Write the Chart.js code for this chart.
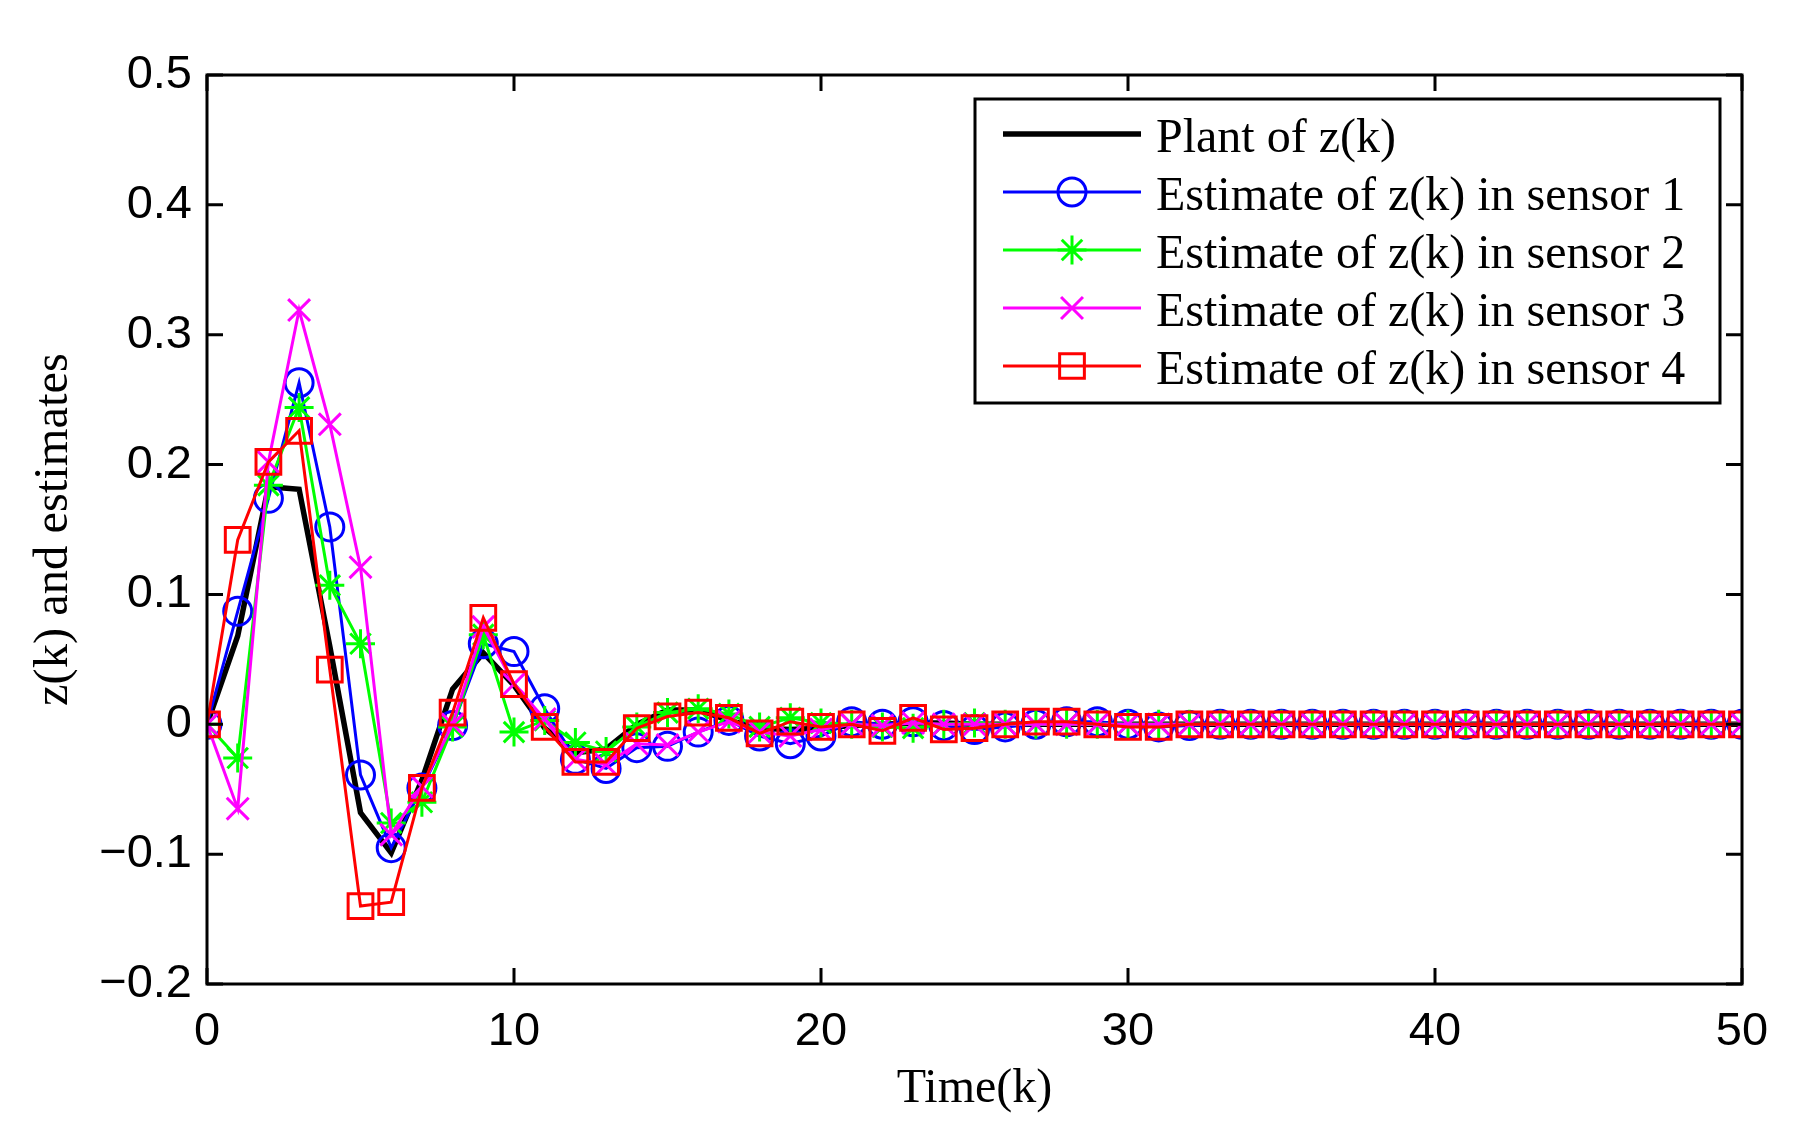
<!DOCTYPE html>
<html>
<head>
<meta charset="utf-8">
<script src="https://cdn.jsdelivr.net/npm/chart.js@4/dist/chart.umd.min.js"></script>
<style>
  html, body { margin: 0; padding: 0; background: #fff; }
  #wrap { width: 1804px; height: 1131px; }
</style>
</head>
<body>
<div id="wrap"><canvas id="zChart" width="1804" height="1131"></canvas></div>
<script>
// time steps k
const timeK = [0, 1, 2, 3, 4, 5, 6, 7, 8, 9, 10, 11, 12, 13, 14, 15, 16, 17, 18, 19, 20,
  21, 22, 23, 24, 25, 26, 27, 28, 29, 30, 31, 32, 33, 34, 35, 36, 37, 38, 39, 40,
  41, 42, 43, 44, 45, 46, 47, 48, 49, 50];

// plant of z(k)
const plantZ = [0, 0.068, 0.183, 0.181, 0.060, -0.068, -0.099, -0.043, 0.027, 0.055, 0.030,
  -0.003, -0.022, -0.019, 0.000, 0.011, 0.011, 0.003, -0.003, -0.004, -0.003,
  -0.001, 0.000, 0.001, 0.001, 0.000, 0.000, 0.000, 0.000, 0.000, 0.000,
  0.000, 0.000, 0.000, 0.000, 0.000, 0.000, 0.000, 0.000, 0.000, 0.000,
  0.000, 0.000, 0.000, 0.000, 0.000, 0.000, 0.000, 0.000, 0.000, 0.000];

// estimates in the four sensors
const sensor1 = [0, 0.087, 0.174, 0.263, 0.152, -0.039, -0.095, -0.049, -0.001, 0.062, 0.056,
  0.012, -0.027, -0.034, -0.018, -0.017, -0.006, 0.003, -0.009, -0.015, -0.009,
  0.002, 0.000, 0.002, -0.001, -0.004, -0.002, 0.000, 0.002, 0.002, 0.000,
  -0.002, -0.001, 0.000, 0.000, 0.000, 0.000, 0.000, 0.000, 0.000, 0.000,
  0.000, 0.000, 0.000, 0.000, 0.000, 0.000, 0.000, 0.000, 0.000, 0.000];

const sensor2 = [0, -0.026, 0.184, 0.244, 0.107, 0.062, -0.076, -0.060, -0.002, 0.069, -0.006,
  0.003, -0.014, -0.021, -0.002, 0.009, 0.012, 0.008, -0.002, 0.005, 0.001,
  0.000, -0.002, -0.003, 0.000, 0.001, 0.000, 0.000, 0.000, 0.000, 0.000,
  0.000, 0.000, 0.000, 0.000, 0.000, 0.000, 0.000, 0.000, 0.000, 0.000,
  0.000, 0.000, 0.000, 0.000, 0.000, 0.000, 0.000, 0.000, 0.000, 0.000];

const sensor3 = [0, -0.065, 0.202, 0.319, 0.231, 0.121, -0.085, -0.048, 0.000, 0.075, 0.031,
  0.004, -0.027, -0.031, -0.015, -0.016, -0.006, 0.002, -0.006, -0.009, -0.004,
  0.000, -0.001, 0.001, 0.000, 0.000, 0.000, 0.000, 0.000, 0.000, 0.000,
  0.000, 0.000, 0.000, 0.000, 0.000, 0.000, 0.000, 0.000, 0.000, 0.000,
  0.000, 0.000, 0.000, 0.000, 0.000, 0.000, 0.000, 0.000, 0.000, 0.000];

const sensor4 = [0, 0.142, 0.202, 0.226, 0.042, -0.140, -0.137, -0.049, 0.009, 0.082, 0.031,
  -0.002, -0.029, -0.029, -0.003, 0.006, 0.009, 0.005, -0.007, 0.002, -0.002,
  0.000, -0.005, 0.005, -0.004, -0.003, 0.000, 0.002, 0.002, 0.000, -0.002,
  -0.002, 0.000, 0.000, 0.000, 0.000, 0.000, 0.000, 0.000, 0.000, 0.000,
  0.000, 0.000, 0.000, 0.000, 0.000, 0.000, 0.000, 0.000, 0.000, 0.000];

const seriesLabels = [
  'Plant of z(k)',
  'Estimate of z(k) in sensor 1',
  'Estimate of z(k) in sensor 2',
  'Estimate of z(k) in sensor 3',
  'Estimate of z(k) in sensor 4'
];

const xTickLabels = { 0: '0', 10: '10', 20: '20', 30: '30', 40: '40', 50: '50' };
const yTickLabels = { '0.5': '0.5', '0.4': '0.4', '0.3': '0.3', '0.2': '0.2', '0.1': '0.1',
  '0': '0', '-0.1': '\u22120.1', '-0.2': '\u22120.2' };

const SANS = '"Liberation Sans", Arial, sans-serif';
const SERIF = '"Liberation Serif", "Times New Roman", serif';

const toPoints = (vals) => vals.map((v, i) => ({ x: timeK[i], y: v }));

function makeSet(label, vals, color, style, radius, width, order) {
  return {
    label: label,
    data: toPoints(vals),
    borderColor: color,
    borderWidth: width,
    pointStyle: style,
    pointRadius: radius,
    pointHoverRadius: radius,
    pointBorderColor: color,
    pointBackgroundColor: 'rgba(0,0,0,0)',
    pointBorderWidth: 3,
    tension: 0,
    fill: false,
    order: order
  };
}

// inward ticks on all four sides plus the axes box
const framePlugin = {
  id: 'frame',
  afterDatasetsDraw(chart) {
    const { ctx, chartArea: a, scales: { x, y } } = chart;
    const len = 16;
    ctx.save();
    ctx.strokeStyle = '#000';
    ctx.lineWidth = 3;
    ctx.beginPath();
    x.ticks.forEach(t => {
      const px = x.getPixelForValue(t.value);
      ctx.moveTo(px, a.bottom); ctx.lineTo(px, a.bottom - len);
      ctx.moveTo(px, a.top); ctx.lineTo(px, a.top + len);
    });
    y.ticks.forEach(t => {
      const py = y.getPixelForValue(t.value);
      ctx.moveTo(a.left, py); ctx.lineTo(a.left + len, py);
      ctx.moveTo(a.right, py); ctx.lineTo(a.right - len, py);
    });
    ctx.stroke();
    ctx.strokeRect(a.left, a.top, a.right - a.left, a.bottom - a.top);
    ctx.restore();
  }
};

// MATLAB style boxed legend in the upper right corner
const legendPlugin = {
  id: 'boxLegend',
  afterDraw(chart) {
    const { ctx, chartArea: a } = chart;
    const boxW = 745, boxH = 304;
    const left = a.right - 22 - boxW, top = a.top + 24;
    ctx.save();
    ctx.fillStyle = '#fff';
    ctx.fillRect(left, top, boxW, boxH);
    ctx.strokeStyle = '#000';
    ctx.lineWidth = 3;
    ctx.strokeRect(left, top, boxW, boxH);
    chart.data.datasets.forEach((ds, i) => {
      const cy = top + 35 + i * 58;
      ctx.strokeStyle = ds.borderColor;
      ctx.lineWidth = ds.borderWidth;
      ctx.beginPath();
      ctx.moveTo(left + 28, cy);
      ctx.lineTo(left + 166, cy);
      ctx.stroke();
      if (ds.pointRadius > 0 && Chart.helpers && Chart.helpers.drawPoint) {
        ctx.lineWidth = ds.pointBorderWidth;
        ctx.fillStyle = 'rgba(0,0,0,0)';
        Chart.helpers.drawPoint(ctx, {
          pointStyle: ds.pointStyle, radius: ds.pointRadius, rotation: 0,
          borderWidth: ds.pointBorderWidth
        }, left + 97, cy);
      }
      ctx.fillStyle = '#000';
      ctx.font = '48px ' + SERIF;
      ctx.textBaseline = 'middle';
      ctx.textAlign = 'left';
      ctx.fillText(ds.label, left + 181, cy + 5);
    });
    ctx.restore();
  }
};

const ctx = document.getElementById('zChart').getContext('2d');
new Chart(ctx, {
  type: 'line',
  data: {
    datasets: [
      makeSet(seriesLabels[0], plantZ, '#000000', false, 0, 5.5, 5),
      makeSet(seriesLabels[1], sensor1, '#0000ff', 'circle', 14, 3, 4),
      makeSet(seriesLabels[2], sensor2, '#00ff00', 'star', 14.5, 3, 3),
      makeSet(seriesLabels[3], sensor3, '#ff00ff', 'crossRot', 15.5, 3, 2),
      makeSet(seriesLabels[4], sensor4, '#ff0000', 'rect', 17.5, 3, 1)
    ]
  },
  options: {
    responsive: false,
    animation: false,
    devicePixelRatio: 1,
    layout: { padding: { top: 75, right: 62, left: 0, bottom: 0 } },
    plugins: {
      legend: { display: false },
      tooltip: { enabled: false }
    },
    scales: {
      x: {
        type: 'linear',
        min: 0,
        max: 50,
        grid: { display: false, drawTicks: false },
        border: { display: false },
        ticks: {
          stepSize: 10,
          padding: 20,
          color: '#000',
          font: { family: SANS, size: 47 },
          maxRotation: 0,
          callback: (v) => xTickLabels[v] !== undefined ? xTickLabels[v] : ''
        },
        title: {
          display: true,
          text: 'Time(k)',
          color: '#000',
          font: { family: SERIF, size: 48 },
          padding: { top: 0, bottom: 13 }
        },
        afterFit: (scale) => { scale.height = 147; }
      },
      y: {
        min: -0.2,
        max: 0.5,
        grid: { display: false, drawTicks: false },
        border: { display: false },
        ticks: {
          stepSize: 0.1,
          padding: 15,
          color: '#000',
          font: { family: SANS, size: 47 },
          callback: (v) => {
            const key = String(Math.round(v * 10) / 10);
            return yTickLabels[key] !== undefined ? yTickLabels[key] : '';
          }
        },
        title: {
          display: true,
          text: 'z(k) and estimates',
          color: '#000',
          font: { family: SERIF, size: 48.5 },
          padding: { top: 25, bottom: 0 }
        },
        afterFit: (scale) => { scale.width = 207; }
      }
    }
  },
  plugins: [framePlugin, legendPlugin]
});
</script>
</body>
</html>
